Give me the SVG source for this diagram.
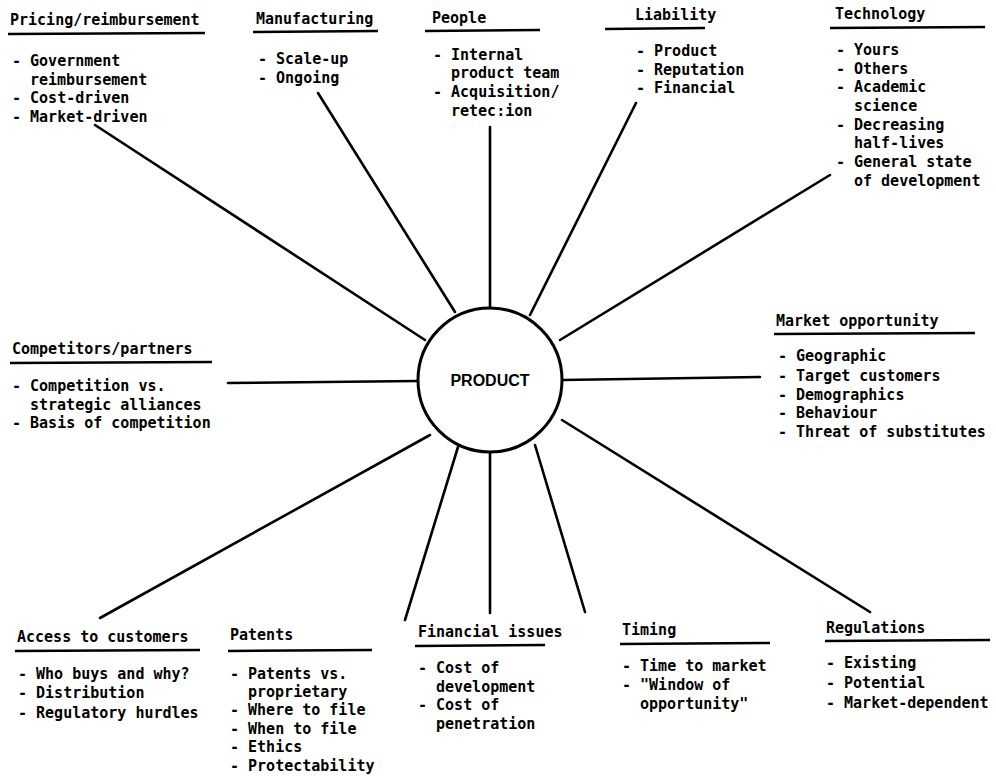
<svg xmlns="http://www.w3.org/2000/svg" width="996" height="776" viewBox="0 0 996 776">
<style>
text{font-family:"DejaVu Sans Mono","Liberation Mono",monospace;font-weight:bold;font-size:15px;fill:#000;white-space:pre}
.ul{stroke:#000;stroke-width:2.5;fill:none}
.c line{stroke:#000;stroke-width:2.6;stroke-linecap:round}
.hub{fill:#fff;stroke:#000;stroke-width:3}
.hubt{font-family:"Liberation Sans",Arial,sans-serif;font-size:16px;font-weight:bold}
</style>
<rect width="996" height="776" fill="#fff"/>
<g class="c" id="connectors">
<line x1="95" y1="125" x2="425" y2="340"/>
<line x1="318" y1="93" x2="455" y2="312"/>
<line x1="490" y1="127" x2="490" y2="308"/>
<line x1="636" y1="103" x2="530" y2="315"/>
<line x1="830" y1="175" x2="560" y2="340"/>
<line x1="228" y1="383" x2="418" y2="381"/>
<line x1="562" y1="380" x2="760" y2="377"/>
<line x1="100" y1="618" x2="430" y2="435"/>
<line x1="405" y1="620" x2="458" y2="447"/>
<line x1="490" y1="452" x2="490" y2="613"/>
<line x1="585" y1="612" x2="535" y2="445"/>
<line x1="870" y1="612" x2="562" y2="420"/>
</g>
<g id="product"><circle class="hub" cx="490" cy="380" r="72"/><text class="hubt" x="490" y="386" text-anchor="middle">PRODUCT</text></g>
<g id="pricing"><text x="10" y="25">Pricing/reimbursement</text><line class="ul" x1="8" y1="34" x2="205" y2="33"/>
<text x="12" y="66">- Government</text><text x="30" y="85">reimbursement</text><text x="12" y="103">- Cost-driven</text><text x="12" y="122">- Market-driven</text></g>
<g id="manufacturing"><text x="256" y="24">Manufacturing</text><line class="ul" x1="253" y1="32" x2="378" y2="31"/>
<text x="258" y="64">- Scale-up</text><text x="258" y="83">- Ongoing</text></g>
<g id="people"><text x="432" y="23">People</text><line class="ul" x1="425" y1="31" x2="540" y2="30"/>
<text x="433" y="60">- Internal</text><text x="451" y="78">product team</text><text x="433" y="97">- Acquisition/</text><text x="451" y="116">retec:ion</text></g>
<g id="liability"><text x="635" y="20">Liability</text><line class="ul" x1="605" y1="29" x2="705" y2="28"/>
<text x="636" y="56">- Product</text><text x="636" y="75">- Reputation</text><text x="636" y="93">- Financial</text></g>
<g id="technology"><text x="835" y="19">Technology</text><line class="ul" x1="830" y1="28" x2="985" y2="27"/>
<text x="836" y="55">- Yours</text><text x="836" y="74">- Others</text><text x="836" y="92">- Academic</text><text x="854" y="111">science</text><text x="836" y="130">- Decreasing</text><text x="854" y="148">half-lives</text><text x="836" y="167">- General state</text><text x="854" y="186">of development</text></g>
<g id="competitors"><text x="12" y="354">Competitors/partners</text><line class="ul" x1="10" y1="363" x2="212" y2="362"/>
<text x="12" y="391">- Competition vs.</text><text x="30" y="410">strategic alliances</text><text x="12" y="428">- Basis of competition</text></g>
<g id="market"><text x="776" y="326">Market opportunity</text><line class="ul" x1="774" y1="334" x2="975" y2="333"/>
<text x="778" y="361">- Geographic</text><text x="778" y="381">- Target customers</text><text x="778" y="400">- Demographics</text><text x="778" y="418">- Behaviour</text><text x="778" y="437">- Threat of substitutes</text></g>
<g id="access"><text x="17" y="642">Access to customers</text><line class="ul" x1="15" y1="651" x2="200" y2="650"/>
<text x="18" y="679">- Who buys and why?</text><text x="18" y="698">- Distribution</text><text x="18" y="718">- Regulatory hurdles</text></g>
<g id="patents"><text x="230" y="640">Patents</text><line class="ul" x1="228" y1="651" x2="372" y2="650"/>
<text x="230" y="679">- Patents vs.</text><text x="248" y="697">proprietary</text><text x="230" y="715">- Where to file</text><text x="230" y="734">- When to file</text><text x="230" y="752">- Ethics</text><text x="230" y="771">- Protectability</text></g>
<g id="financial"><text x="418" y="637">Financial issues</text><line class="ul" x1="415" y1="646" x2="545" y2="645"/>
<text x="418" y="673">- Cost of</text><text x="436" y="692">development</text><text x="418" y="710">- Cost of</text><text x="436" y="729">penetration</text></g>
<g id="timing"><text x="622" y="635">Timing</text><line class="ul" x1="620" y1="644" x2="770" y2="643"/>
<text x="622" y="671">- Time to market</text><text x="622" y="690">- "Window of</text><text x="640" y="709">opportunity"</text></g>
<g id="regulations"><text x="826" y="633">Regulations</text><line class="ul" x1="825" y1="641" x2="990" y2="640"/>
<text x="826" y="668">- Existing</text><text x="826" y="688">- Potential</text><text x="826" y="708">- Market-dependent</text></g>
</svg>
